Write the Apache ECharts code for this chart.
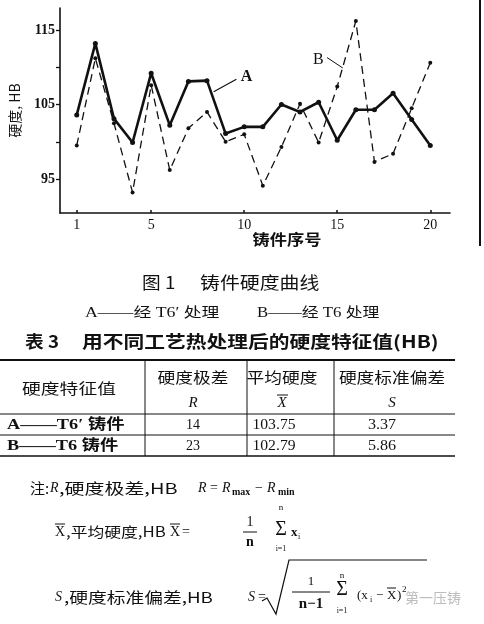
<!DOCTYPE html>
<html>
<head>
<meta charset="utf-8">
<script src="https://cdn.jsdelivr.net/npm/echarts@6/dist/echarts.min.js"></script>
<style>
html, body { margin: 0; padding: 0; background: #fff; }
#chart { width: 484px; height: 624px; }
</style>
</head>
<body>
<div id="chart"></div>
<script>
// Casting number (x) and Brinell hardness of each casting for the two heat treatments
const castingNo = [1, 2, 3, 4, 5, 6, 7, 8, 9, 10, 11, 12, 13, 14, 15, 16, 17, 18, 19, 20];
const hardnessA = [103.6, 113.2, 103.1, 99.9, 109.2, 102.2, 108.1, 108.2, 101.1, 102.0,
                   102.0, 105.0, 104.0, 105.3, 100.2, 104.3, 104.3, 106.5, 103.0, 99.5];
const hardnessB = [99.5, 111.2, 102.5, 93.2, 107.6, 96.2, 101.8, 104.0, 100.0, 101.0,
                   94.1, 99.3, 105.1, 99.9, 107.4, 116.2, 97.3, 98.4, 104.5, 110.6];

// Axis ticks and labels
const xTicks = [1, 5, 10, 15, 20];
const yTicks = [95, 100, 105, 110, 115];
const yLabels = [95, 105, 115];

// Table 3: hardness characteristics
const tableHead = ['硬度特征值', '硬度极差', '平均硬度', '硬度标准偏差'];
const tableSymbols = ['R', 'X', 'S'];
const rowNames = ['A——T6′ 铸件', 'B——T6 铸件'];
const rangeR = [14, 23];
const meanX = [103.75, 102.79];
const stdS = [3.37, 5.86];

const SERIF = '"Liberation Serif", "Noto Sans CJK SC", serif';
const CJK = '"Noto Sans CJK SC", "Liberation Serif", sans-serif';
const INK = '#111';

const chart = echarts.init(document.getElementById('chart'), null, { renderer: 'canvas' });

chart.setOption({
  animation: false,
  backgroundColor: '#fff',
  grid: { left: 54, right: 34, top: 8, bottom: 411 },
  xAxis: {
    type: 'value',
    min: 0.1,
    max: 21.06,
    axisLine: { show: true, lineStyle: { color: INK, width: 1.6 } },
    axisTick: { show: true, inside: true, length: 3, customValues: xTicks, lineStyle: { color: INK, width: 1.5 } },
    axisLabel: { customValues: xTicks, margin: 5, color: INK, fontSize: 14, fontFamily: SERIF },
    splitLine: { show: false }
  },
  yAxis: {
    type: 'value',
    min: 90.44,
    max: 117.95,
    name: '硬度, HB',
    nameLocation: 'middle',
    nameRotate: 90,
    nameGap: 38,
    nameTextStyle: { color: INK, fontSize: 14, fontFamily: CJK },
    axisLine: { show: true, lineStyle: { color: INK, width: 1.6 } },
    axisTick: { show: true, inside: false, length: 4, customValues: yTicks, lineStyle: { color: INK, width: 1.3 } },
    axisLabel: { customValues: yLabels, margin: 5, color: INK, fontSize: 14, fontWeight: 'bold', fontFamily: SERIF },
    splitLine: { show: false }
  },
  series: [
    {
      name: 'A',
      type: 'line',
      data: castingNo.map((n, i) => [n, hardnessA[i]]),
      symbol: 'circle',
      symbolSize: 5,
      itemStyle: { color: INK },
      lineStyle: { color: INK, width: 2.6 },
      z: 3
    },
    {
      name: 'B',
      type: 'line',
      data: castingNo.map((n, i) => [n, hardnessB[i]]),
      symbol: 'circle',
      symbolSize: 4,
      itemStyle: { color: INK },
      lineStyle: { color: INK, width: 1.3, type: [8, 5] },
      z: 2
    }
  ]
});

// ---- helpers for the annotation, captions, table and notes ----
function txt(x, y, text, font, o) {
  o = o || {};
  return {
    type: 'text', x: x, y: y, scaleX: o.sx || 1, scaleY: 1, silent: true, z: 10,
    style: {
      text: text, font: font, fill: o.fill || INK,
      textAlign: o.align || 'left', align: o.align || 'left',
      textVerticalAlign: 'middle', verticalAlign: 'middle'
    }
  };
}
function seg(x1, y1, x2, y2, w) {
  return { type: 'line', silent: true, z: 10, shape: { x1: x1, y1: y1, x2: x2, y2: y2 }, style: { stroke: INK, lineWidth: w || 1 } };
}
const px = (x, y) => chart.convertToPixel({ gridIndex: 0 }, [x, y]);

const g = [];

// curve labels with leader lines
const aFrom = px(8.36, 106.7), aTo = px(9.58, 108.4), aAt = px(10.13, 108.7);
g.push(seg(aFrom[0], aFrom[1], aTo[0], aTo[1], 1.2));
g.push(txt(aAt[0], aAt[1], 'A', 'bold 16px ' + SERIF, { align: 'center' }));
const bFrom = px(15.3, 109.9), bTo = px(14.45, 111.3), bAt = px(13.98, 111.0);
g.push(seg(bFrom[0], bFrom[1], bTo[0], bTo[1], 1));
g.push(txt(bAt[0], bAt[1], 'B', '16px ' + SERIF, { align: 'center' }));

// x axis title
g.push(txt(287, 239, '铸件序号', 'bold 15px ' + CJK, { align: 'center', sx: 1.15 }));

// page edge rule
g.push(seg(480, 0, 480, 246, 2));

// figure caption and legend
g.push(txt(142, 283, '图 1', '17px ' + CJK, { sx: 1.1 }));
g.push(txt(200, 283, '铸件硬度曲线', '17px ' + CJK, { sx: 1.17 }));
g.push(txt(85, 313, 'A——经 T6′ 处理', '14px ' + SERIF, { sx: 1.27 }));
g.push(txt(257, 313, 'B——经 T6 处理', '14px ' + SERIF, { sx: 1.2 }));

// table title
g.push(txt(25, 342, '表 3', 'bold 17px ' + CJK, { sx: 1.1 }));
g.push(txt(82, 342, '用不同工艺热处理后的硬度特征值(HB)', 'bold 17px ' + CJK, { sx: 1.22 }));

// table rules
g.push(seg(0, 360, 455, 360, 2));
g.push(seg(0, 414, 455, 414, 1.2));
g.push(seg(0, 435, 455, 435, 1));
g.push(seg(0, 456, 455, 456, 1.5));
[145, 247, 334].forEach(x => g.push(seg(x, 360, x, 456, 1)));

// table header
const colX = [69, 193, 282, 392];
g.push(txt(colX[0], 388, tableHead[0], '15px ' + CJK, { align: 'center', sx: 1.25 }));
for (let c = 1; c < 4; c++) {
  g.push(txt(colX[c], 377, tableHead[c], '15px ' + CJK, { align: 'center', sx: 1.18 }));
  g.push(txt(colX[c], 403, tableSymbols[c - 1], 'italic 15px ' + SERIF, { align: 'center' }));
}
g.push(seg(colX[2] - 5, 395, colX[2] + 6, 395, 1));

// table body
const rowY = [425, 446];
const numX = [193, 274, 382];
for (let r = 0; r < 2; r++) {
  g.push(txt(7, rowY[r], rowNames[r], 'bold 15px ' + SERIF, { sx: 1.22 }));
  g.push(txt(numX[0], rowY[r], String(rangeR[r]), '14px ' + SERIF, { align: 'center' }));
  g.push(txt(numX[1], rowY[r], meanX[r].toFixed(2), '14px ' + SERIF, { align: 'center', sx: 1.12 }));
  g.push(txt(numX[2], rowY[r], stdS[r].toFixed(2), '14px ' + SERIF, { align: 'center', sx: 1.15 }));
}

// note, line 1: range
g.push(txt(30, 488, '注:', '15px ' + CJK));
g.push(txt(50, 488, 'R', 'italic 14px ' + SERIF));
g.push(txt(59, 488, ',硬度极差,HB', '15px ' + CJK, { sx: 1.33 }));
g.push(txt(198, 488, 'R', 'italic 14px ' + SERIF));
g.push(txt(210, 488, '=', '14px ' + SERIF));
g.push(txt(222, 488, 'R', 'italic 14px ' + SERIF));
g.push(txt(232, 492, 'max', 'bold 10px ' + SERIF));
g.push(txt(255, 488, '−', '14px ' + SERIF));
g.push(txt(267, 488, 'R', 'italic 14px ' + SERIF));
g.push(txt(278, 492, 'min', 'bold 10px ' + SERIF));

// note, line 2: mean
g.push(txt(55, 532, 'X', '14px ' + SERIF));
g.push(seg(55, 524, 65, 524, 1));
g.push(txt(66, 532, ',平均硬度,HB', '14px ' + CJK, { sx: 1.2 }));
g.push(txt(170, 532, 'X', '14px ' + SERIF));
g.push(seg(170, 524, 180, 524, 1));
g.push(txt(182, 532, '=', '14px ' + SERIF));
g.push(txt(250, 522, '1', '14px ' + SERIF, { align: 'center' }));
g.push(seg(243, 532, 257, 532, 1));
g.push(txt(250, 542, 'n', 'bold 14px ' + SERIF, { align: 'center' }));
g.push(txt(281, 530, 'Σ', '20px ' + SERIF, { align: 'center' }));
g.push(txt(281, 508, 'n', '9px ' + SERIF, { align: 'center' }));
g.push(txt(281, 549, 'i=1', '8px ' + SERIF, { align: 'center' }));
g.push(txt(291, 533, 'x', 'bold 13px ' + SERIF));
g.push(txt(298, 537, 'i', '8px ' + SERIF));

// note, line 3: standard deviation
g.push(txt(55, 597, 'S', 'italic 14px ' + SERIF));
g.push(txt(64, 597, ',硬度标准偏差,HB', '15px ' + CJK, { sx: 1.25 }));
g.push(txt(248, 597, 'S', 'italic 14px ' + SERIF));
g.push(txt(258, 597, '=', '14px ' + SERIF));
g.push({ type: 'polyline', silent: true, z: 10,
  shape: { points: [[262, 601], [267, 598], [276, 614], [289, 560], [427, 560]] },
  style: { stroke: INK, lineWidth: 1.2, fill: null } });
g.push(txt(311, 582, '1', '13px ' + SERIF, { align: 'center' }));
g.push(seg(292, 592, 330, 592, 1));
g.push(txt(311, 604, 'n−1', 'bold 15px ' + SERIF, { align: 'center' }));
g.push(txt(342, 590, 'Σ', '20px ' + SERIF, { align: 'center' }));
g.push(txt(342, 576, 'n', '9px ' + SERIF, { align: 'center' }));
g.push(txt(342, 611, 'i=1', '8px ' + SERIF, { align: 'center' }));
g.push(txt(357, 596, '(x', '13px ' + SERIF));
g.push(txt(370, 600, 'i', '8px ' + SERIF));
g.push(txt(376, 596, '−', '13px ' + SERIF));
g.push(txt(387, 596, 'X', '13px ' + SERIF));
g.push(seg(387, 588, 396, 588, 1));
g.push(txt(397, 596, ')', '13px ' + SERIF));
g.push(txt(402, 590, '2', '9px ' + SERIF));

// publisher mark
g.push(txt(405, 598, '第一压铸', '14px ' + CJK, { fill: '#bdbdbd' }));

chart.setOption({ graphic: { elements: g } });
</script>
</body>
</html>
